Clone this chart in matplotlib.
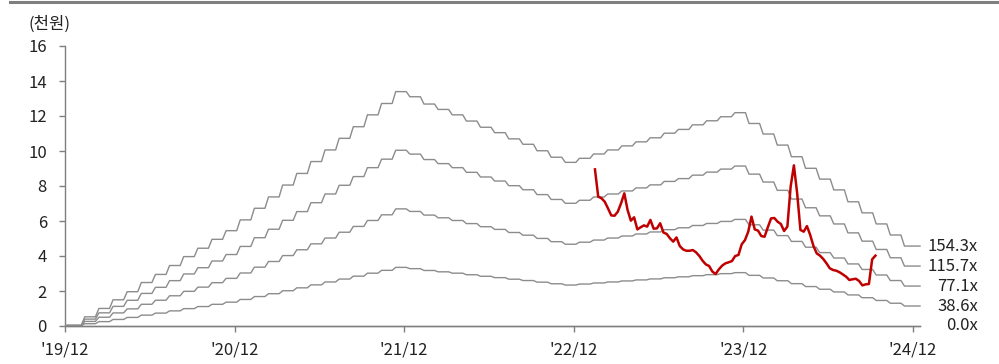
import numpy as np
import matplotlib
matplotlib.use('Agg')
import matplotlib.pyplot as plt
from matplotlib.lines import Line2D

plt.rcParams['font.family'] = ['Noto Sans CJK KR', 'DejaVu Sans']

# monthly EPS (원), 2019/12 ~ 2024/11
eps = [0.3, 3.4, 6.5, 9.7, 12.7, 16.1, 19.1, 22.4, 25.7, 28.8, 32.1, 35.3,
       39.3, 43.6, 47.8, 52.2, 56.5, 60.9, 65.2, 69.5, 73.8, 78.2, 82.4, 86.8,
       84.9, 82.2, 80.2, 78.2, 75.9, 73.6, 71.6, 69.3, 67.3, 64.9, 62.5, 60.6,
       62.1, 63.7, 65.2, 66.7, 68.2, 69.7, 71.4, 72.8, 74.5, 76.0, 77.5, 79.0,
       75.0, 71.1, 67.0, 62.7, 58.4, 54.4, 50.4, 46.0, 41.9, 37.8, 33.7, 29.6]
multiples = [0.0, 38.6, 77.1, 115.7, 154.3]

# weekly share price (천원), from mid Jan 2023
price = [8.95, 7.39, 7.30, 7.10, 6.72, 6.32, 6.30, 6.53, 7.01, 7.58,
         6.63, 6.02, 6.21, 5.52, 5.64, 5.75, 5.68, 6.06, 5.56, 5.58,
         5.87, 5.34, 5.26, 5.01, 4.82, 5.06, 4.57, 4.38, 4.30, 4.30,
         4.34, 4.21, 4.00, 3.73, 3.52, 3.43, 3.11, 2.97, 3.24, 3.45,
         3.58, 3.64, 3.71, 4.00, 4.06, 4.67, 4.91, 5.39, 6.25, 5.52,
         5.45, 5.14, 5.10, 5.64, 6.15, 6.17, 5.96, 5.83, 5.43, 5.68,
         7.96, 9.18, 7.58, 5.49, 5.39, 5.71, 5.20, 4.57, 4.15, 4.02,
         3.83, 3.58, 3.30, 3.20, 3.16, 3.07, 2.95, 2.82, 2.63, 2.67,
         2.70, 2.57, 2.32, 2.38, 2.40, 3.81, 4.02]
price_start = 37.5  # months after 2019/12

xticks = [0, 12, 24, 36, 48, 60]
xlabels = ["'19/12", "'20/12", "'21/12", "'22/12", "'23/12", "'24/12"]

fig = plt.figure(figsize=(9.99, 3.64), dpi=100)
ax = fig.add_axes([65 / 999, 1 - 326 / 364, (920 - 65) / 999, (326 - 46) / 364])

# step-like band lines
xs, base = [], []
for j, e in enumerate(eps):
    x0 = j + 0.4 if j > 0 else 0.15
    x1 = j + 1.15 if j < len(eps) - 1 else j + 1.5
    xs += [x0, x1]
    base += [e, e]
xs = np.array(xs)
base = np.array(base) / 1000.0

grey = '#8c8c8c'
fs = 12
for m in multiples:
    ax.plot(xs, base * m, color=grey, lw=1.0, clip_on=False, zorder=2)
    ax.text(64.6, eps[-1] / 1000.0 * m, '%.1fx' % m, ha='right', va='center',
            fontsize=fs, color='#222222', clip_on=False)

px = price_start + np.arange(len(price)) * 12 / 52.0
ax.plot(px, price, color='#c00000', lw=1.8, zorder=3)

ax.set_xlim(0, 60.5)
ax.set_ylim(0, 16)
ax.set_yticks(range(0, 17, 2))
ax.set_xticks(xticks)
ax.set_xticklabels(xlabels)

for s in ['top', 'right']:
    ax.spines[s].set_visible(False)
for s in ['left', 'bottom']:
    ax.spines[s].set_color('#7f7f7f')
    ax.spines[s].set_linewidth(1.0)
ax.tick_params(axis='y', direction='out', length=4, width=1, color='#7f7f7f',
               pad=9, labelsize=fs, labelcolor='#222222')
ax.tick_params(axis='x', direction='out', length=4, width=1, color='#7f7f7f',
               pad=7, labelsize=fs, labelcolor='#222222')

fig.text(28 / 999, 1 - 24 / 364, '(천원)', ha='left', va='center',
         fontsize=fs, color='#222222')
fig.add_artist(Line2D([10 / 999, 1], [1 - 1.5 / 364, 1 - 1.5 / 364],
                      transform=fig.transFigure, color='#7f7f7f', lw=2.2))

fig.savefig('out.png', dpi=100)
